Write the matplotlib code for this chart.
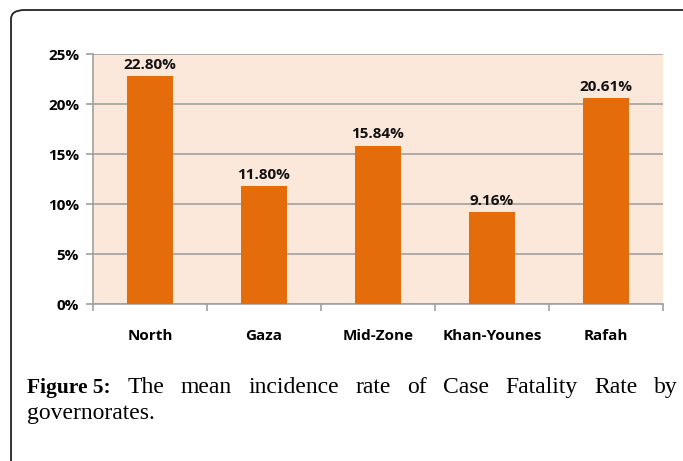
import matplotlib
matplotlib.use("Agg")
import matplotlib.pyplot as plt
from matplotlib.patches import FancyBboxPatch

categories = ["North", "Gaza", "Mid-Zone", "Khan-Younes", "Rafah"]
values = [22.80, 11.80, 15.84, 9.16, 20.61]
yticks = [0, 5, 10, 15, 20, 25]
caption_bold = "Figure 5:"
caption_words = ["The", "mean", "incidence", "rate", "of", "Case", "Fatality", "Rate", "by"]
caption_line2 = "governorates."

W, H = 683, 461
fig = plt.figure(figsize=(W / 100, H / 100), dpi=100)
fig.patch.set_facecolor("white")

# outer rounded frame
frame = FancyBboxPatch((11 / W, -0.2), 1.2, (H - 10) / H + 0.2,
                       boxstyle="round,pad=0,rounding_size=0.02",
                       transform=fig.transFigure, fill=False,
                       edgecolor="#222222", linewidth=1.3, clip_on=False)
fig.patches.append(frame)

ax = fig.add_axes([93 / W, 1 - 304 / H, (663 - 93) / W, (304 - 54) / H])
ax.set_facecolor("#FCE8DA")
x = list(range(len(categories)))
ax.bar(x, values, width=0.4, color="#E46C0A", zorder=3)
ax.set_xlim(-0.5, len(categories) - 0.5)
ax.set_ylim(0, 25)
ax.set_yticks(yticks)
ax.set_yticklabels([f"{v}%" for v in yticks], fontsize=11, fontweight="bold",
                   family="Open Sans")
ax.yaxis.grid(True, color="#A0A0A0", linewidth=1.2, zorder=1)
ax.tick_params(axis="y", length=5, color="#A0A0A0", pad=5, width=1.2)
ax.set_xticks([i - 0.5 for i in range(len(categories) + 1)], minor=False)
ax.set_xticklabels([])
ax.set_xticks(x, minor=True)
ax.set_xticklabels(categories, minor=True, fontsize=11, fontweight="bold",
                   family="Open Sans")
ax.tick_params(axis="x", which="major", length=5, color="#A0A0A0", width=1.2)
ax.tick_params(axis="x", which="minor", length=0, pad=18)
for s in ["top", "right"]:
    ax.spines[s].set_visible(False)
for s in ["left", "bottom"]:
    ax.spines[s].set_color("#A0A0A0")
    ax.spines[s].set_linewidth(1.2)

for xi, v in zip(x, values):
    ax.annotate(f"{v:.2f}%", (xi, v), xytext=(0, 3), textcoords="offset points",
                ha="center", va="bottom", fontsize=11, fontweight="bold",
                family="Open Sans", color="#111111")

# caption, justified on first line
fig.canvas.draw()
renderer = fig.canvas.get_renderer()
left, right = 27, 678
y1 = 1 - 393 / H
y2 = 1 - 419 / H
texts = []
t0 = fig.text(left / W, y1, caption_bold, fontsize=15.5, fontweight="bold",
              family="Liberation Serif", va="baseline", ha="left")
texts.append(t0)
for w in caption_words:
    texts.append(fig.text(0, y1, w, fontsize=17, family="Liberation Serif",
                          va="baseline", ha="left"))
widths = [t.get_window_extent(renderer).width for t in texts]
gap = (right - left - sum(widths)) / (len(texts) - 1)
pos = left
for t, wd in zip(texts, widths):
    t.set_x(pos / W)
    pos += wd + gap
fig.text(left / W, y2, caption_line2, fontsize=17, family="Liberation Serif",
         va="baseline", ha="left")

fig.savefig("out.png", dpi=100)
